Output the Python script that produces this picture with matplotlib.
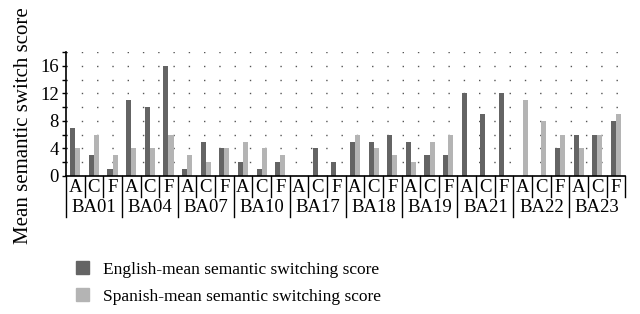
import numpy as np
import matplotlib
matplotlib.use("Agg")
import matplotlib.pyplot as plt
from matplotlib.patches import Patch
from matplotlib.lines import Line2D

plt.rcParams['font.family'] = ['Liberation Serif', 'DejaVu Serif']

# Data
groups = ["BA01", "BA04", "BA07", "BA10", "BA17", "BA18", "BA19", "BA21", "BA22", "BA23"]
subcats = ["A", "C", "F"]
english = [7, 3, 1, 11, 10, 16, 1, 5, 4, 2, 1, 2, 0, 4, 2,
           5, 5, 6, 5, 3, 3, 12, 9, 12, 0, 0, 4, 6, 6, 8]
spanish = [4, 6, 3, 4, 4, 6, 3, 2, 4, 5, 4, 3, 0, 0, 0,
           6, 4, 3, 2, 5, 6, 0, 0, 0, 11, 8, 6, 4, 6, 9]
labels = ["English-mean semantic switching score",
          "Spanish-mean semantic switching score"]

dark = "#646464"
light = "#b4b4b4"

fig = plt.figure(figsize=(6.4, 3.14), dpi=100)
ax = fig.add_axes([0.103, 0.4395, 0.874, 0.395])

x = np.arange(len(english))
w = 0.27
ax.bar(x - w / 2, english, width=w, color=dark, linewidth=0)
ax.bar(x + w / 2, spanish, width=w, color=light, linewidth=0)

ax.set_xlim(-0.5, len(english) - 0.5)
ax.set_ylim(0, 18)
ax.set_yticks(np.arange(0, 19, 2))
ax.set_yticklabels([str(v) if v % 4 == 0 else "" for v in range(0, 19, 2)])
ax.tick_params(axis="y", length=3, width=1, labelsize=13.5, pad=2)
ax.set_xticks([])
for s in ["top", "right"]:
    ax.spines[s].set_visible(False)
ax.spines["left"].set_linewidth(1.2)
ax.spines["bottom"].set_linewidth(1.2)
ax.yaxis.grid(True, linestyle=(0, (1, 10)), color="#555555", linewidth=1)
ax.set_axisbelow(True)
ax.set_ylabel("Mean semantic switch score", fontsize=15)
ax.yaxis.set_label_coords(-0.058, 0.41)

# two-level category axis
tr = ax.get_xaxis_transform()
row1, row2 = -0.09, -0.25
for i in range(len(english)):
    ax.text(i, row1, subcats[i % 3], transform=tr, ha="center", va="center", fontsize=13.5)
for g, name in enumerate(groups):
    ax.text(3 * g + 1, row2, name, transform=tr, ha="center", va="center", fontsize=13.5)
for i in range(len(english) + 1):
    bottom = -0.33 if (i % 3 == 0 and i < len(english)) else -0.17
    ax.add_line(Line2D([i - 0.5, i - 0.5], [0, bottom], transform=tr,
                       color="black", linewidth=1, clip_on=False))

handles = [Patch(color=dark), Patch(color=light)]
fig.legend(handles, labels, loc="upper left", bbox_to_anchor=(0.108, 0.19),
           frameon=False, fontsize=12.5, handlelength=0.75, handleheight=0.75,
           handletextpad=0.8, labelspacing=0.6, borderaxespad=0)

fig.savefig("out.png", dpi=100)
